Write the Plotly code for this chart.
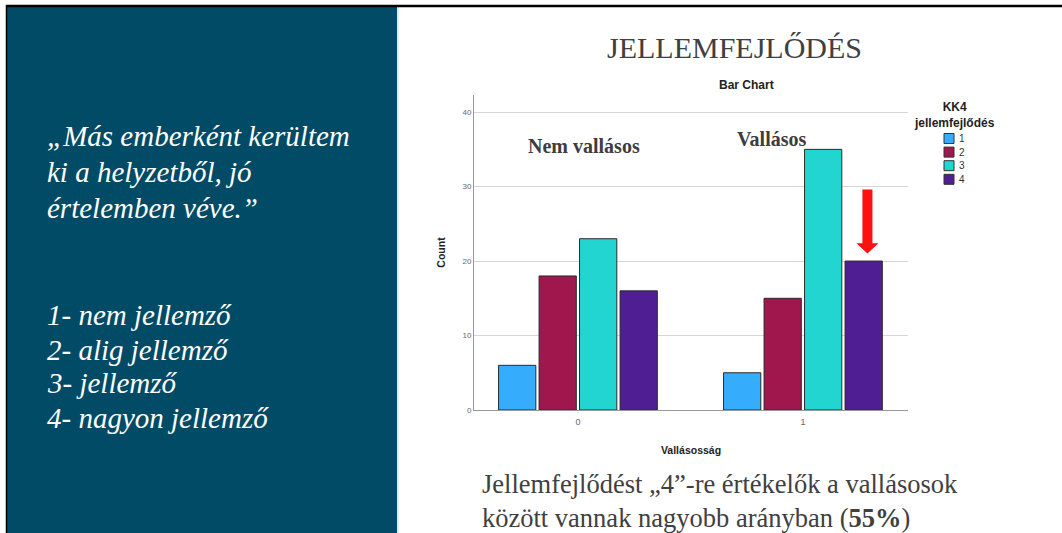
import plotly.graph_objects as go

categories = [0, 1]
series_names = ["1", "2", "3", "4"]
values = {
    "1": [6, 5],
    "2": [18, 15],
    "3": [23, 35],
    "4": [16, 20],
}
colors = {"1": "#35ADFC", "2": "#A0174E", "3": "#23D5D0", "4": "#4F1E93"}
y_ticks = [0, 10, 20, 30, 40]
x_tick_labels = ["0", "1"]
legend_title = "KK4<br>jellemfejlődés"

fig = go.Figure()
for name in series_names:
    fig.add_trace(go.Bar(
        x=categories, y=values[name], name=name, showlegend=False,
        marker=dict(color=colors[name], line=dict(color="#2b2b2b", width=1)),
    ))

W, H = 1062, 533
def px(x):
    return x / W
def py(y):
    return 1 - y / H

serif = "Liberation Serif"
sans = "Liberation Sans"

fig.update_layout(
    width=W, height=H,
    margin=dict(l=0, r=0, t=0, b=0, pad=0, autoexpand=False),
    paper_bgcolor="white", plot_bgcolor="white",
    barmode="group", bargap=0.28, bargroupgap=0.08,
    xaxis=dict(
        domain=[px(474), px(908)], range=[-0.462, 1.467], automargin=False,
        tickmode="array", tickvals=categories, ticktext=x_tick_labels,
        showgrid=False, zeroline=False, showline=True, linecolor="#999", linewidth=1,
        ticks="", ticklabelstandoff=3, tickfont=dict(family=sans, size=9, color="#666"),
        title=dict(text="<b>Vallásosság</b>", font=dict(family=sans, size=10.5, color="#222"), standoff=20),
    ),
    yaxis=dict(
        domain=[py(410), py(95)], range=[0, 42.3], automargin=False,
        tickmode="array", tickvals=y_ticks,
        showgrid=True, gridcolor="#d6d6d6", gridwidth=1, zeroline=False,
        showline=True, linecolor="#999", linewidth=1,
        ticks="", tickfont=dict(family=sans, size=8, color="#666"),
        title=dict(text="<b>Count</b>", font=dict(family=sans, size=10.5, color="#222"), standoff=14),
    ),
)

shapes = [
    # left panel
    dict(type="rect", xref="paper", yref="paper", x0=px(7), x1=px(397), y0=0, y1=py(7),
         fillcolor="#024B66", line=dict(width=0), layer="below"),
    dict(type="line", xref="paper", yref="paper", x0=px(398), x1=px(398), y0=0, y1=py(7),
         line=dict(color="#c8d4dc", width=1)),
    # borders
    dict(type="line", xref="paper", yref="paper", x0=px(6), x1=1, y0=py(6), y1=py(6),
         line=dict(color="black", width=2.5)),
    dict(type="line", xref="paper", yref="paper", x0=px(6.5), x1=px(6.5), y0=0, y1=py(5),
         line=dict(color="black", width=1.5)),
    # red arrow (data coords)
    dict(type="path", xref="x", yref="y",
         path="M 1.2644,29.6 L 1.3089,29.6 L 1.3089,22.4 L 1.3356,22.4 L 1.2867,21.0 L 1.2378,22.4 L 1.2644,22.4 Z",
         fillcolor="#FF1010", line=dict(width=0)),
]

ann = []
def text(x, y, t, size, color, family=serif, xanchor="center", yanchor="middle"):
    ann.append(dict(xref="paper", yref="paper", x=px(x), y=py(y), text=t, showarrow=False,
                    font=dict(family=family, size=size, color=color), xanchor=xanchor, yanchor=yanchor))

# legend (built from the series lists)
text(954, 115, "<b>" + legend_title + "</b>", 12, "#222", family=sans)
for i, name in enumerate(series_names):
    yc = 138.5 + i * 13.6
    shapes.append(dict(type="rect", xref="paper", yref="paper",
                       x0=px(944), x1=px(954), y0=py(yc + 5), y1=py(yc - 5),
                       fillcolor=colors[name], line=dict(color="#333", width=1)))
    text(956.5, yc, name, 10, "#333", family=sans, xanchor="left")

text(734, 47, "JELLEMFEJLŐDÉS", 30, "#404040")
text(746, 85, "<b>Bar Chart</b>", 12, "#222", family=sans)
text(584, 146, "<b>Nem vallásos</b>", 20, "#3d3d3d")
text(772, 139, "<b>Vallásos</b>", 20, "#3d3d3d")
text(480, 484, "Jellemfejlődést „4”-re értékelők a vallásosok", 26.5, "#404040", xanchor="left")
text(480, 518, "között vannak nagyobb arányban (<b>55%</b>)", 26.5, "#404040", xanchor="left")

left_lines = [
    (136, "„Más emberként kerültem"),
    (172, "ki a helyzetből, jó"),
    (208, "értelemben véve.”"),
    (315, "1- nem jellemző"),
    (350, "2- alig jellemző"),
    (383, "3- jellemző"),
    (418, "4- nagyon jellemző"),
]
for y, t in left_lines:
    text(45, y, "<i>" + t + "</i>", 29, "white", xanchor="left")

fig.update_layout(shapes=shapes, annotations=ann)

post = (
    "document.documentElement.style.margin='0';"
    "document.body.style.margin='0';"
    "document.body.style.overflow='hidden';"
    "document.documentElement.style.overflow='hidden';"
)
fig.write_html("out.html", config={"displayModeBar": False}, post_script=post)
